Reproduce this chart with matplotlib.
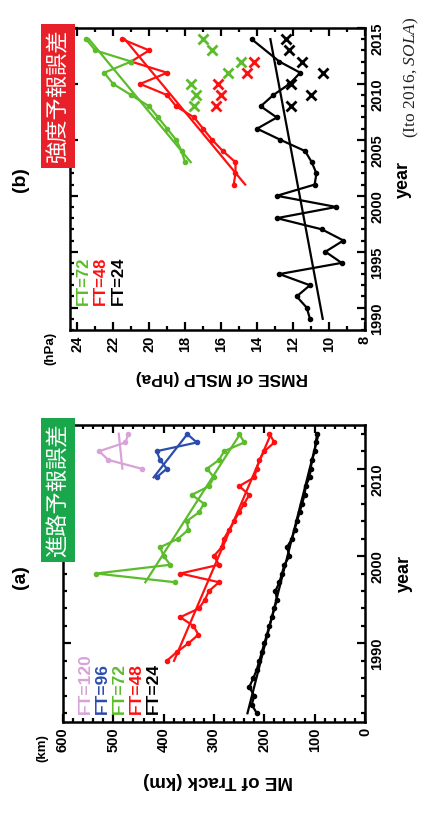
import matplotlib
matplotlib.use('Agg')
import matplotlib.pyplot as plt
from matplotlib.ticker import MultipleLocator
import numpy as np

# ---------------- data (panel a: track error, km) ----------------
ft24_years = list(range(1982, 2015))
ft24_track = [215, 225, 220, 230, 222, 215, 210, 205, 200, 195, 190, 185, 180, 175,
              178, 170, 165, 160, 150, 155, 145, 140, 135, 130, 125, 120, 118, 110,
              108, 105, 100, 98, 95]
ft48_years = list(range(1988, 2015))
ft48_track = [394, 374, 351, 331, 341, 367, 330, 318, 310, 290, 367, 290, 300, 285,
              280, 270, 260, 250, 240, 230, 250, 220, 215, 210, 200, 180, 190]
ft72_years = list(range(1997, 2015))
ft72_track = [377, 534, 387, 400, 407, 371, 351, 354, 330, 320, 344, 310, 300, 314,
              290, 280, 240, 250]
ft96_years = [2009, 2010, 2011, 2012, 2013, 2014]
ft96_track = [414, 394, 407, 414, 334, 354]
ft120_years = [2010, 2011, 2012, 2013, 2014]
ft120_track = [444, 510, 528, 476, 470]

# ---------------- data (panel b: intensity RMSE, hPa) ----------------
b24_years = [1989, 1990, 1991, 1992, 1993, 1994, 1995, 1996, 1997, 1998, 1999, 2000,
             2001, 2002, 2003, 2004, 2005, 2006, 2007, 2008, 2009, 2010, 2011, 2012, 2014]
b24_rmse = [11.06, 11.24, 11.8, 11.06, 12.76, 9.3, 10.2, 9.2, 10.4, 12.9, 9.6, 12.9,
            10.8, 10.7, 10.96, 11.33, 12.7, 14.0, 12.9, 13.8, 13.1, 12.2, 11.6, 12.76, 14.3]
b24_trend_years = [1989, 2014]
b24_trend = [10.35, 13.26]
b24x_years = [2008, 2009, 2010, 2011, 2012, 2013, 2014]
b24x_rmse = [12.1, 11.0, 12.1, 10.35, 11.5, 12.2, 12.4]
b48_years = [2001, 2002, 2003, 2004, 2005, 2006, 2007, 2008, 2009, 2010, 2011, 2012, 2013, 2014]
b48_rmse = [15.3, 15.2, 15.2, 15.9, 16.5, 17.0, 17.5, 18.5, 19.0, 20.5, 19.0, 21.0, 20.0, 21.5]
b48x_years = [2008, 2009, 2010, 2011, 2012]
b48x_rmse = [16.3, 16.0, 16.2, 14.55, 14.15]
b72_years = [2003, 2004, 2005, 2006, 2007, 2008, 2009, 2010, 2011, 2012, 2013, 2014]
b72_rmse = [18.0, 18.2, 18.5, 19.0, 19.5, 20.0, 21.0, 22.0, 22.5, 21.0, 23.0, 23.5]
b72x_years = [2008, 2009, 2010, 2011, 2012, 2013, 2014]
b72x_rmse = [17.5, 17.4, 17.7, 15.6, 14.9, 16.5, 17.0]

C24, C48, C72, C96, C120 = 'black', '#ff1010', '#5cbc2c', '#2c4cae', '#d9a2d8'

W, H = 422, 819
plt.rcParams['font.family'] = ['Liberation Sans', 'DejaVu Sans']
plt.rcParams['mathtext.fontset'] = 'custom'
plt.rcParams['mathtext.it'] = 'Liberation Serif:italic'
plt.rcParams['mathtext.rm'] = 'Liberation Serif'
fig = plt.figure(figsize=(W / 100, H / 100), dpi=100)


def box(l, t, r, b):
    return [l / W, 1 - b / H, (r - l) / W, (b - t) / H]


def style(ax, vmaj, vmin, ymaj, ymin, size):
    ax.xaxis.set_major_locator(MultipleLocator(vmaj))
    ax.xaxis.set_minor_locator(MultipleLocator(vmin))
    ax.yaxis.set_major_locator(MultipleLocator(ymaj))
    ax.yaxis.set_minor_locator(MultipleLocator(ymin))
    ax.yaxis.tick_right()
    ax.tick_params(which='both', direction='in', top=True, bottom=True, left=True, right=True,
                   width=1.6, labelsize=size)
    ax.tick_params(which='major', length=6)
    ax.tick_params(which='minor', length=3)
    ax.tick_params(axis='x', labelrotation=90, pad=4)
    ax.tick_params(axis='y', labelrotation=90, pad=4, labelleft=False, labelright=True)
    for lab in ax.get_xticklabels() + ax.get_yticklabels():
        lab.set_fontweight('bold')
    for s in ax.spines.values():
        s.set_linewidth(1.8)


def series(ax, years, vals, color, ms=3):
    ax.plot(vals, years, '-', color=color, lw=1.6, marker='o', ms=ms, mec=color, mfc=color)


def trend(ax, years, vals, color):
    c = np.polyfit(years, vals, 1)
    yy = np.array([years[0], years[-1]])
    ax.plot(np.polyval(c, yy), yy, '-', color=color, lw=1.6)


# ---------------- panel (a) ----------------
axa = fig.add_axes(box(63, 425, 365, 722))
axa.set_xlim(600, 0)
axa.set_ylim(1981, 2015)
for yrs, vals, col in [(ft24_years, ft24_track, C24), (ft48_years, ft48_track, C48),
                       (ft72_years, ft72_track, C72), (ft96_years, ft96_track, C96),
                       (ft120_years, ft120_track, C120)]:
    series(axa, yrs, vals, col)
    trend(axa, yrs, vals, col)
style(axa, 100, 20, 10, 2, 10.5)

for i, (t, c) in enumerate([('FT=120', C120), ('FT=96', C96), ('FT=72', C72),
                            ('FT=48', C48), ('FT=24', C24)]):
    fig.text((85 + 17.2 * i) / W, 1 - 714 / H, t, color=c, rotation=90, fontsize=12.5,
             fontweight='bold', ha='center', va='bottom')

fig.text(20 / W, 1 - 577 / H, '(a)', rotation=90, fontsize=14, fontweight='bold',
         ha='center', va='center')
fig.text(42 / W, 1 - 748 / H, '(km)', rotation=90, fontsize=9.5, fontweight='bold',
         ha='center', va='center')
fig.text(218 / W, 1 - 781 / H, 'ME of Track (km)', rotation=180, fontsize=13.5,
         fontweight='bold', ha='center', va='center')
fig.text(404 / W, 1 - 573 / H, 'year', rotation=90, fontsize=13, fontweight='bold',
         ha='center', va='center')
fig.text(58 / W, 1 - 490 / H, '進路予報誤差', rotation=90, fontsize=16, color='white',
         family=['Noto Sans CJK JP'], ha='center', va='center',
         bbox=dict(boxstyle='square,pad=0.25', fc='#1aa64a', ec='none'))

# ---------------- panel (b) ----------------
axb = fig.add_axes(box(70, 28, 365, 330))
axb.set_xlim(24.4, 8)
axb.set_ylim(1988, 2015)
series(axb, b24_years, b24_rmse, C24)
axb.plot(b24_trend, b24_trend_years, '-', color=C24, lw=1.6)
series(axb, b48_years, b48_rmse, C48)
trend(axb, b48_years, b48_rmse, C48)
series(axb, b72_years, b72_rmse, C72)
trend(axb, b72_years, b72_rmse, C72)
axb.plot(b24x_rmse, b24x_years, 'x', color=C24, ms=7, mew=2)
axb.plot(b48x_rmse, b48x_years, 'x', color=C48, ms=7, mew=2)
axb.plot(b72x_rmse, b72x_years, 'x', color=C72, ms=7, mew=2)
style(axb, 2, 1, 5, 1, 10.5)

for i, (t, c) in enumerate([('FT=72', C72), ('FT=48', C48), ('FT=24', C24)]):
    fig.text((83 + 17.5 * i) / W, 1 - 305 / H, t, color=c, rotation=90, fontsize=12,
             fontweight='bold', ha='center', va='bottom')

fig.text(20 / W, 1 - 180 / H, '(b)', rotation=90, fontsize=14, fontweight='bold',
         ha='center', va='center')
fig.text(50 / W, 1 - 348 / H, '(hPa)', rotation=90, fontsize=9.5, fontweight='bold',
         ha='center', va='center')
fig.text(222 / W, 1 - 378 / H, 'RMSE of MSLP (hPa)', rotation=180, fontsize=12.5,
         fontweight='bold', ha='center', va='center')
fig.text(403 / W, 1 - 180 / H, 'year', rotation=90, fontsize=13, fontweight='bold',
         ha='center', va='center')
fig.text(58 / W, 1 - 96 / H, '強度予報誤差', rotation=90, fontsize=16, color='white',
         family=['Noto Sans CJK JP'], ha='center', va='center',
         bbox=dict(boxstyle='square,pad=0.25', fc='#e8202a', ec='none'))

fig.text(411 / W, 1 - 138 / H, '(Ito 2016, $SOLA$)', rotation=90, fontsize=12.5,
         ha='center', va='bottom', color='#222222', family=['Liberation Serif'])

fig.savefig('out.png', dpi=100)
